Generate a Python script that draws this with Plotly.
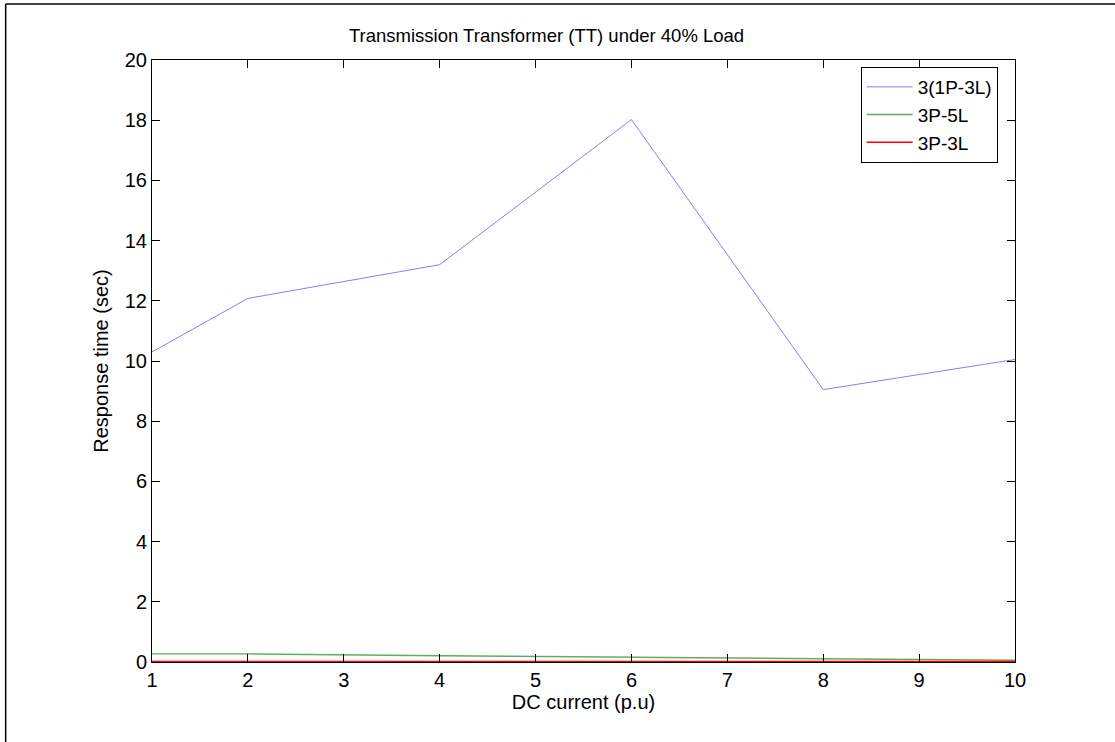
import plotly.graph_objects as go

# DC current levels (p.u)
dc_current = [1, 2, 4, 6, 8, 10]

# Response times (sec) for each configuration
resp_3x1p3l = [10.3, 12.08, 13.2, 18.02, 9.05, 10.05]
resp_3p5l = [0.27, 0.27, 0.21, 0.17, 0.11, 0.06]
resp_3p3l = [0.02, 0.02, 0.02, 0.02, 0.02, 0.02]

x_ticks = [1, 2, 3, 4, 5, 6, 7, 8, 9, 10]
y_ticks = [0, 2, 4, 6, 8, 10, 12, 14, 16, 18, 20]

W, H = 1115, 742
L, R, T, B = 151.5, 99.5, 60, 80
PW, PH = W - L - R, H - T - B


def px(xp):
    return (xp - L) / PW


def py(yp):
    return (H - B - yp) / PH


FONT = "Liberation Sans, Arial, sans-serif"

fig = go.Figure()
fig.add_trace(go.Scatter(x=dc_current, y=resp_3x1p3l, mode="lines", name="3(1P-3L)",
                         line=dict(color="#7f7fff", width=1)))
fig.add_trace(go.Scatter(x=dc_current, y=resp_3p5l, mode="lines", name="3P-5L",
                         line=dict(color="#5fae5f", width=1.4)))
fig.add_trace(go.Scatter(x=dc_current, y=resp_3p3l, mode="lines", name="3P-3L",
                         line=dict(color="#ff0000", width=1.4)))

axis_common = dict(showgrid=False, zeroline=False, showline=True, linecolor="black",
                   linewidth=1, mirror="ticks", ticks="inside", ticklen=8,
                   tickcolor="black", tickwidth=1,
                   tickfont=dict(family=FONT, size=20, color="black"))

fig.update_xaxes(range=[1, 10], tickvals=x_ticks, ticktext=[str(v) for v in x_ticks],
                 title=dict(text="DC current (p.u)", font=dict(family=FONT, size=20, color="black"),
                            standoff=2),
                 **axis_common)
fig.update_yaxes(range=[0, 20], tickvals=y_ticks, ticktext=[str(v) for v in y_ticks],
                 title=dict(text="Response time (sec)", font=dict(family=FONT, size=20, color="black"),
                            standoff=10),
                 **axis_common)

# Figure frame on the left and top edges
fig.add_shape(type="line", xref="paper", yref="paper", x0=px(5), x1=px(W + 5), y0=py(4), y1=py(4),
              line=dict(color="black", width=1.5))
fig.add_shape(type="line", xref="paper", yref="paper", x0=px(5), x1=px(5), y0=py(4), y1=py(H + 5),
              line=dict(color="black", width=1.5))

fig.add_annotation(text="Transmission Transformer (TT) under 40% Load", xref="paper", yref="paper",
                   x=px(546), y=py(36), xanchor="center", yanchor="middle", showarrow=False,
                   font=dict(family=FONT, size=18.5, color="black"))

fig.update_layout(
    width=W, height=H,
    margin=dict(l=L, r=R, t=T, b=B, pad=0),
    paper_bgcolor="white", plot_bgcolor="white",
    font=dict(family=FONT, size=20, color="black"),
    showlegend=True,
    legend=dict(x=px(861), y=py(67), xanchor="left", yanchor="top",
                bordercolor="black", borderwidth=1, bgcolor="white",
                font=dict(family=FONT, size=19, color="black"),
                tracegroupgap=0, itemwidth=46),
)

fig.write_html("out.html")
